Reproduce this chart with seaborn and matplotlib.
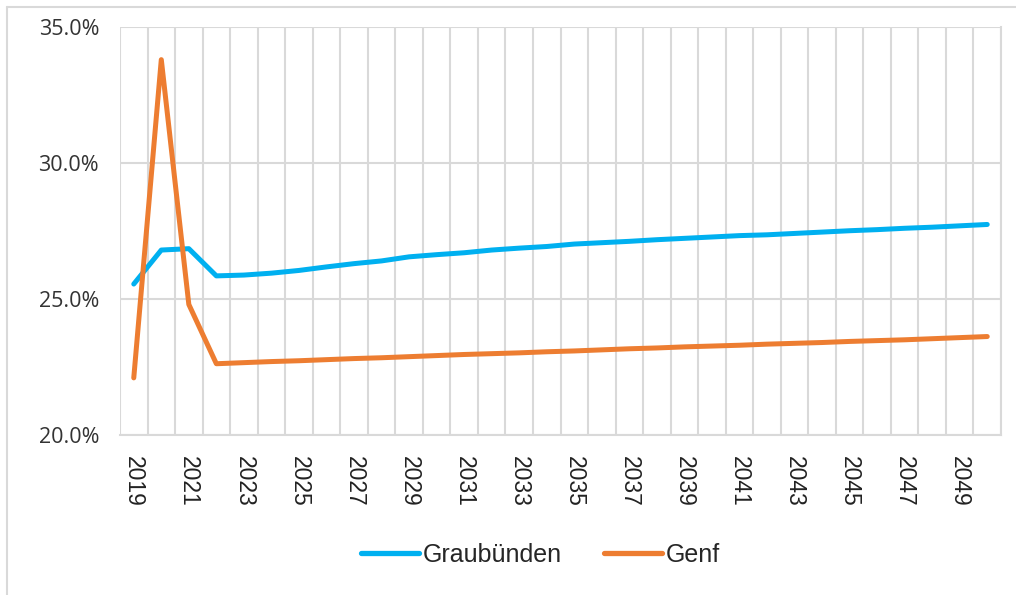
import matplotlib
matplotlib.use("Agg")
import matplotlib.pyplot as plt
from matplotlib.lines import Line2D
from matplotlib.ticker import FuncFormatter, FixedLocator
import seaborn as sns
import pandas as pd
import numpy as np

years = list(range(2019, 2051))
graubuenden = [25.55, 26.80, 26.85, 25.85, 25.88, 25.95, 26.05, 26.18, 26.30, 26.40,
               26.55, 26.63, 26.70, 26.80, 26.87, 26.93, 27.02, 27.07, 27.12, 27.18,
               27.23, 27.28, 27.33, 27.36, 27.41, 27.46, 27.51, 27.55, 27.60, 27.64,
               27.69, 27.74]
genf = [22.10, 33.80, 24.80, 22.62, 22.66, 22.70, 22.73, 22.77, 22.81, 22.84,
        22.88, 22.92, 22.96, 22.99, 23.02, 23.06, 23.09, 23.13, 23.17, 23.20,
        23.24, 23.27, 23.30, 23.34, 23.37, 23.40, 23.44, 23.47, 23.50, 23.54,
        23.58, 23.62]
series_names = ["Graubünden", "Genf"]
colors = ["#00B0F0", "#ED7D31"]
y_ticks = [20, 25, 30, 35]
x_tick_labels = list(range(2019, 2050, 2))

df = pd.DataFrame({
    "Jahr": years * 2,
    "Wert": graubuenden + genf,
    "Kanton": [series_names[0]] * len(years) + [series_names[1]] * len(years),
})

sns.set_theme(style="white")
plt.rcParams["font.family"] = ["Liberation Sans", "DejaVu Sans"]

fig = plt.figure(figsize=(10.16, 5.95), dpi=100)
ax = fig.add_axes([120 / 1016, 1 - 435 / 595, (1001 - 120) / 1016, (435 - 27) / 595])

sns.lineplot(data=df, x="Jahr", y="Wert", hue="Kanton", palette=colors,
             hue_order=series_names, linewidth=3.6, ax=ax, legend=False,
             solid_capstyle="round", solid_joinstyle="round", zorder=3)

ax.set_xlim(years[0] - 0.5, years[-1] + 0.5)
ax.set_ylim(y_ticks[0], y_ticks[-1])
ax.set_yticks(y_ticks)
ax.yaxis.set_major_formatter(FuncFormatter(lambda v, p: f"{v:.1f}%"))
ax.set_xticks(x_tick_labels)
ax.set_xticklabels([str(y) for y in x_tick_labels], rotation=-90, fontsize=16.5,
                   family=["Liberation Sans"], color="#222222")
for lab in ax.get_yticklabels():
    lab.set_fontsize(15.5)
    lab.set_family(["Open Sans", "DejaVu Sans"])
    lab.set_color("#333333")
ax.xaxis.set_minor_locator(FixedLocator([y - 0.5 for y in years] + [years[-1] + 0.5]))
ax.tick_params(axis="x", which="major", length=0, pad=15)
ax.tick_params(axis="y", which="major", length=0, pad=15)
ax.tick_params(axis="x", which="minor", length=0)
ax.grid(False)
ax.grid(True, axis="x", which="minor", color="#D9D9D9", linewidth=1.5, zorder=0)
ax.grid(True, axis="y", which="major", color="#D9D9D9", linewidth=1.5, zorder=0)
for s in ax.spines.values():
    s.set_visible(False)
ax.spines["bottom"].set_visible(True)
ax.spines["bottom"].set_color("#D9D9D9")
ax.spines["bottom"].set_linewidth(1.5)
ax.spines["right"].set_visible(True)
ax.spines["right"].set_color("#D9D9D9")
ax.spines["right"].set_linewidth(1.5)
ax.set_xlabel("")
ax.set_ylabel("")

handles = [Line2D([0], [0], color=c, linewidth=3.8, solid_capstyle="round") for c in colors]
fig.legend(handles, series_names, loc="center", bbox_to_anchor=(0.532, 0.067),
           ncol=2, frameon=False, fontsize=18, handlelength=2.3, handletextpad=0.15,
           columnspacing=1.7)

# outer chart border (top and left visible)
fig.add_artist(Line2D([7 / 1016, 1.0], [1 - 7 / 595, 1 - 7 / 595], color="#D9D9D9",
                      linewidth=1.5, transform=fig.transFigure))
fig.add_artist(Line2D([7 / 1016, 7 / 1016], [0.0, 1 - 7 / 595], color="#D9D9D9",
                      linewidth=1.5, transform=fig.transFigure))

fig.savefig("out.png", dpi=100)
